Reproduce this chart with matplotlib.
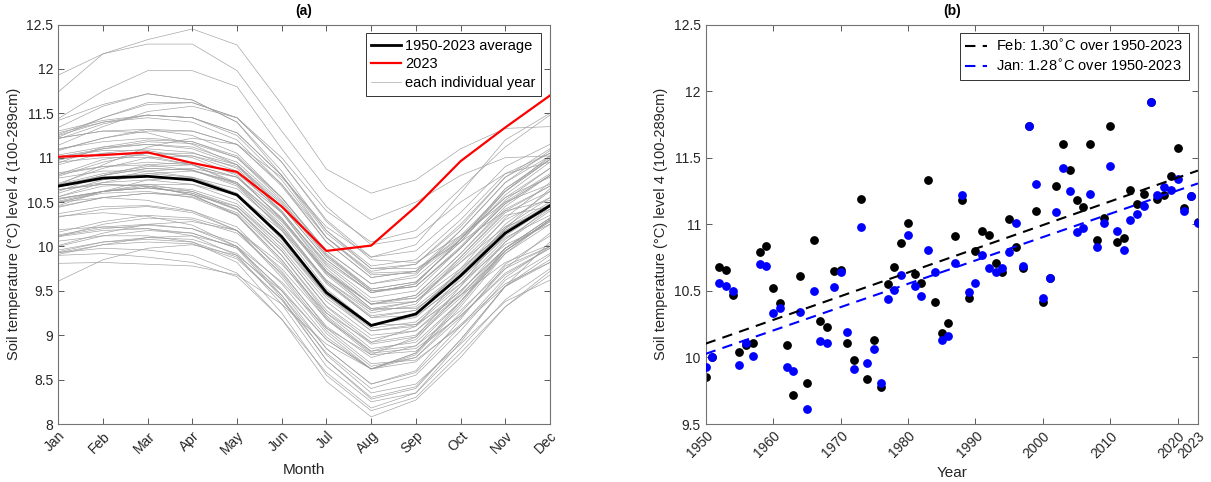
import matplotlib
matplotlib.use("Agg")
import matplotlib.pyplot as plt
import numpy as np

plt.rcParams['font.family'] = ['Liberation Sans', 'DejaVu Sans']

months = ['Jan', 'Feb', 'Mar', 'Apr', 'May', 'Jun', 'Jul', 'Aug', 'Sep', 'Oct', 'Nov', 'Dec']
years = list(range(1950, 2024))

# monthly soil temperature (level 4, 100-289cm), one row per year 1950-2023
year_temps = [
    [9.93, 10.02, 10.05, 10.03, 9.86, 9.40, 8.72, 8.30, 8.42, 8.95, 9.55, 9.85],
    [10.00, 10.12, 10.18, 10.15, 9.98, 9.52, 8.95, 8.62, 8.80, 9.35, 9.95, 10.30],
    [10.56, 10.68, 10.70, 10.62, 10.42, 9.90, 9.25, 8.85, 8.92, 9.38, 9.92, 10.30],
    [10.54, 10.62, 10.66, 10.60, 10.41, 9.95, 9.33, 8.96, 9.05, 9.50, 9.98, 10.28],
    [10.50, 10.55, 10.52, 10.40, 10.18, 9.65, 9.02, 8.62, 8.70, 9.12, 9.58, 9.82],
    [9.94, 10.05, 10.10, 10.08, 9.92, 9.45, 8.85, 8.45, 8.60, 9.18, 9.78, 10.00],
    [10.11, 10.18, 10.20, 10.15, 9.98, 9.42, 8.72, 8.28, 8.40, 8.95, 9.55, 9.90],
    [10.01, 10.15, 10.25, 10.28, 10.18, 9.80, 9.25, 8.92, 9.10, 9.65, 10.22, 10.55],
    [10.70, 10.82, 10.90, 10.92, 10.78, 10.32, 9.70, 9.30, 9.38, 9.82, 10.30, 10.55],
    [10.69, 10.80, 10.88, 10.86, 10.70, 10.25, 9.60, 9.20, 9.22, 9.58, 10.02, 10.25],
    [10.33, 10.42, 10.45, 10.38, 10.18, 9.68, 9.05, 8.65, 8.75, 9.20, 9.75, 10.15],
    [10.37, 10.45, 10.46, 10.40, 10.22, 9.72, 9.08, 8.68, 8.72, 9.10, 9.55, 9.82],
    [9.93, 9.98, 9.96, 9.90, 9.70, 9.18, 8.48, 8.08, 8.27, 8.75, 9.32, 9.72],
    [9.90, 9.92, 9.88, 9.82, 9.66, 9.18, 8.58, 8.18, 8.35, 8.92, 9.55, 10.05],
    [10.34, 10.38, 10.34, 10.24, 10.00, 9.45, 8.78, 8.35, 8.45, 8.90, 9.38, 9.62],
    [9.61, 9.85, 9.98, 10.02, 9.90, 9.50, 8.95, 8.62, 8.78, 9.32, 9.92, 10.25],
    [10.50, 10.60, 10.62, 10.55, 10.35, 9.85, 9.22, 8.82, 8.88, 9.28, 9.75, 10.00],
    [10.12, 10.20, 10.24, 10.20, 10.04, 9.58, 8.98, 8.62, 8.75, 9.25, 9.80, 10.12],
    [10.11, 10.25, 10.32, 10.30, 10.15, 9.70, 9.10, 8.75, 8.88, 9.38, 9.95, 10.30],
    [10.53, 10.62, 10.66, 10.60, 10.42, 9.95, 9.32, 8.92, 9.00, 9.45, 9.98, 10.32],
    [10.64, 10.70, 10.68, 10.58, 10.36, 9.85, 9.20, 8.80, 8.85, 9.22, 9.68, 9.98],
    [10.19, 10.22, 10.20, 10.12, 9.90, 9.35, 8.65, 8.25, 8.35, 8.85, 9.40, 9.75],
    [9.91, 10.02, 10.10, 10.12, 10.00, 9.60, 9.08, 8.78, 8.98, 9.55, 10.20, 10.65],
    [10.98, 11.05, 11.02, 10.92, 10.70, 10.18, 9.52, 9.12, 9.12, 9.45, 9.82, 10.02],
    [9.96, 10.05, 10.08, 10.05, 9.88, 9.40, 8.80, 8.40, 8.55, 9.05, 9.62, 9.92],
    [10.06, 10.12, 10.12, 10.05, 9.82, 9.25, 8.55, 8.15, 8.30, 8.80, 9.32, 9.68],
    [9.81, 9.82, 9.80, 9.78, 9.68, 9.35, 8.90, 8.62, 8.80, 9.38, 9.98, 10.32],
    [10.44, 10.55, 10.60, 10.56, 10.38, 9.90, 9.28, 8.90, 8.98, 9.42, 9.95, 10.30],
    [10.51, 10.62, 10.68, 10.64, 10.48, 10.02, 9.42, 9.05, 9.12, 9.55, 10.05, 10.40],
    [10.62, 10.80, 10.92, 10.95, 10.82, 10.40, 9.80, 9.42, 9.50, 9.98, 10.50, 10.82],
    [10.92, 11.05, 11.10, 11.06, 10.88, 10.40, 9.78, 9.38, 9.42, 9.82, 10.22, 10.42],
    [10.54, 10.62, 10.66, 10.62, 10.45, 9.98, 9.38, 9.00, 9.05, 9.45, 9.95, 10.28],
    [10.46, 10.62, 10.75, 10.78, 10.65, 10.22, 9.62, 9.25, 9.35, 9.88, 10.40, 10.68],
    [10.81, 10.98, 11.05, 11.02, 10.85, 10.38, 9.75, 9.35, 9.38, 9.75, 10.18, 10.45],
    [10.64, 10.70, 10.68, 10.58, 10.35, 9.82, 9.18, 8.78, 8.82, 9.22, 9.70, 9.98],
    [10.13, 10.22, 10.25, 10.20, 10.00, 9.50, 8.85, 8.45, 8.58, 9.10, 9.65, 10.00],
    [10.16, 10.28, 10.35, 10.32, 10.18, 9.75, 9.18, 8.82, 8.95, 9.48, 10.05, 10.45],
    [10.71, 10.88, 11.00, 11.02, 10.90, 10.45, 9.85, 9.48, 9.58, 10.08, 10.65, 11.00],
    [11.22, 11.30, 11.28, 11.15, 10.92, 10.38, 9.72, 9.30, 9.30, 9.65, 10.10, 10.35],
    [10.49, 10.62, 10.70, 10.70, 10.58, 10.18, 9.62, 9.28, 9.38, 9.85, 10.35, 10.45],
    [10.56, 10.72, 10.82, 10.85, 10.72, 10.30, 9.72, 9.35, 9.45, 9.92, 10.42, 10.68],
    [10.77, 10.85, 10.85, 10.78, 10.58, 10.08, 9.45, 9.05, 9.10, 9.50, 9.98, 10.32],
    [10.67, 10.78, 10.82, 10.78, 10.60, 10.12, 9.50, 9.12, 9.20, 9.62, 10.12, 10.45],
    [10.64, 10.72, 10.75, 10.70, 10.52, 10.05, 9.45, 9.08, 9.15, 9.58, 10.08, 10.42],
    [10.67, 10.80, 10.88, 10.86, 10.72, 10.28, 9.70, 9.35, 9.42, 9.88, 10.38, 10.62],
    [10.79, 10.95, 11.05, 11.05, 10.92, 10.48, 9.88, 9.50, 9.55, 9.98, 10.48, 10.80],
    [11.01, 11.08, 11.08, 11.00, 10.80, 10.30, 9.68, 9.28, 9.32, 9.72, 10.20, 10.50],
    [10.69, 10.92, 11.12, 11.22, 11.15, 10.78, 10.22, 9.88, 10.02, 10.60, 11.20, 11.50],
    [11.74, 12.17, 12.28, 12.28, 11.98, 11.30, 10.65, 10.30, 10.50, 10.80, 11.00, 11.02],
    [11.30, 11.42, 11.48, 11.45, 11.28, 10.80, 10.15, 9.75, 9.75, 10.05, 10.40, 10.52],
    [10.45, 10.55, 10.60, 10.58, 10.45, 10.02, 9.45, 9.10, 9.22, 9.75, 10.32, 10.72],
    [10.60, 10.75, 10.85, 10.88, 10.78, 10.38, 9.82, 9.48, 9.58, 10.08, 10.65, 10.98],
    [11.09, 11.22, 11.30, 11.30, 11.15, 10.68, 10.05, 9.65, 9.72, 10.18, 10.72, 11.08],
    [11.42, 11.60, 11.72, 11.65, 11.40, 10.85, 10.18, 9.75, 9.80, 10.22, 10.78, 11.05],
    [11.25, 11.40, 11.48, 11.45, 11.25, 10.75, 10.10, 9.70, 9.72, 10.10, 10.55, 10.78],
    [10.94, 11.12, 11.20, 11.18, 11.00, 10.52, 9.90, 9.50, 9.55, 9.98, 10.48, 10.80],
    [10.97, 11.10, 11.18, 11.16, 11.00, 10.55, 9.95, 9.58, 9.68, 10.18, 10.72, 11.02],
    [11.23, 11.45, 11.60, 11.62, 11.45, 10.95, 10.28, 9.85, 9.82, 10.12, 10.50, 10.70],
    [10.83, 10.90, 10.92, 10.86, 10.68, 10.20, 9.58, 9.20, 9.28, 9.72, 10.25, 10.62],
    [11.01, 11.10, 11.15, 11.12, 10.95, 10.50, 9.90, 9.52, 9.60, 10.05, 10.62, 11.02],
    [11.44, 11.75, 11.98, 11.98, 11.80, 11.10, 10.45, 10.02, 10.10, 10.50, 10.82, 10.95],
    [10.95, 11.00, 11.00, 10.92, 10.72, 10.22, 9.60, 9.22, 9.28, 9.70, 10.18, 10.48],
    [10.81, 10.90, 10.95, 10.92, 10.78, 10.32, 9.72, 9.35, 9.45, 9.92, 10.45, 10.80],
    [11.03, 11.12, 11.15, 11.10, 10.92, 10.45, 9.85, 9.48, 9.55, 10.00, 10.52, 10.88],
    [11.08, 11.22, 11.32, 11.30, 11.15, 10.70, 10.10, 9.72, 9.80, 10.25, 10.78, 11.10],
    [11.14, 11.35, 11.52, 11.58, 11.45, 11.00, 10.40, 10.05, 10.18, 10.65, 11.12, 11.48],
    [11.93, 12.17, 12.33, 12.45, 12.27, 11.60, 10.87, 10.60, 10.75, 11.10, 11.33, 11.35],
    [11.22, 11.30, 11.32, 11.25, 11.05, 10.55, 9.92, 9.52, 9.60, 10.05, 10.58, 10.95],
    [11.28, 11.40, 11.45, 11.40, 11.20, 10.70, 10.05, 9.65, 9.72, 10.12, 10.62, 10.98],
    [11.26, 11.45, 11.62, 11.62, 11.45, 10.95, 10.30, 9.88, 9.95, 10.38, 10.90, 11.15],
    [11.34, 11.58, 11.72, 11.65, 11.40, 10.80, 10.10, 9.68, 9.70, 10.08, 10.55, 10.88],
    [11.10, 11.18, 11.22, 11.18, 11.02, 10.55, 9.95, 9.58, 9.65, 10.08, 10.62, 10.98],
    [11.21, 11.38, 11.48, 11.45, 11.28, 10.80, 10.18, 9.78, 9.85, 10.30, 10.82, 11.05],
    [11.01, 11.03, 11.06, 10.94, 10.84, 10.45, 9.95, 10.01, 10.45, 10.96, 11.34, 11.70],
]

avg_temp = [10.68, 10.77, 10.79, 10.75, 10.58, 10.11, 9.48, 9.11, 9.24, 9.67, 10.15, 10.46]
temp_2023 = [11.01, 11.03, 11.06, 10.94, 10.84, 10.45, 9.95, 10.01, 10.45, 10.96, 11.34, 11.70]

jan_temp = [9.93, 10.00, 10.56, 10.54, 10.50, 9.94, 10.11, 10.01, 10.70, 10.69,
            10.33, 10.37, 9.93, 9.90, 10.34, 9.61, 10.50, 10.12, 10.11, 10.53,
            10.64, 10.19, 9.91, 10.98, 9.96, 10.06, 9.81, 10.44, 10.51, 10.62,
            10.92, 10.54, 10.46, 10.81, 10.64, 10.13, 10.16, 10.71, 11.22, 10.49,
            10.56, 10.77, 10.67, 10.64, 10.67, 10.79, 11.01, 10.69, 11.74, 11.30,
            10.45, 10.60, 11.09, 11.42, 11.25, 10.94, 10.97, 11.23, 10.83, 11.01,
            11.44, 10.95, 10.81, 11.03, 11.08, 11.14, 11.92, 11.22, 11.28, 11.26,
            11.34, 11.10, 11.21, 11.01]
feb_temp = [9.85, 10.00, 10.68, 10.66, 10.47, 10.04, 10.09, 10.11, 10.79, 10.84,
            10.52, 10.41, 10.09, 9.72, 10.61, 9.81, 10.88, 10.27, 10.23, 10.65,
            10.66, 10.11, 9.98, 11.19, 9.84, 10.13, 9.78, 10.55, 10.68, 10.86,
            11.01, 10.63, 10.56, 11.33, 10.42, 10.18, 10.26, 10.91, 11.18, 10.45,
            10.80, 10.95, 10.92, 10.71, 10.64, 11.04, 10.83, 10.67, 11.74, 11.10,
            10.42, 10.60, 11.29, 11.60, 11.41, 11.18, 11.13, 11.60, 10.88, 11.05,
            11.74, 10.87, 10.90, 11.26, 11.15, 11.23, 11.92, 11.19, 11.22, 11.36,
            11.57, 11.12, 11.21, 11.02]

# total warming over the period quoted in the legend
feb_change = 1.30
jan_change = 1.28

year_ticks = [1950, 1960, 1970, 1980, 1990, 2000, 2010, 2020, 2023]


def style_axes(ax):
    for s in ax.spines.values():
        s.set_color('0.45')
        s.set_linewidth(0.8)
    ax.tick_params(direction='in', length=4, width=0.7, color='0.35',
                   top=True, right=True, labelsize=10, labelcolor='#262626')


def trend(values, change):
    # straight line with the quoted change, through the mean of the points
    x = np.array(years, dtype=float)
    slope = change / (years[-1] - years[0])
    xm, ym = x.mean(), np.mean(values)
    ends = np.array([years[0], years[-1]], dtype=float)
    return ends, ym + slope * (ends - xm)


fig = plt.figure(figsize=(12.11, 4.82), dpi=100)
ax1 = fig.add_axes([0.0481, 0.1203, 0.406, 0.8288])
ax2 = fig.add_axes([0.5827, 0.1203, 0.4065, 0.8288])

# (a) seasonal cycle
x = np.arange(1, 13)
for i, row in enumerate(year_temps):
    ax1.plot(x, row, color='0.62', lw=0.45,
             label='each individual year' if i == 0 else None, zorder=1)
ax1.plot(x, avg_temp, color='black', lw=2, label='1950-2023 average', zorder=3)
ax1.plot(x, temp_2023, color='red', lw=1.6, label='2023', zorder=4)

ax1.set_xlim(1, 12)
ax1.set_ylim(8, 12.5)
ax1.set_xticks(x)
ax1.set_xticklabels(months, rotation=45, ha='right', va='top', rotation_mode='anchor')
yt = np.arange(8, 12.51, 0.5)
ax1.set_yticks(yt)
ax1.set_yticklabels(['%g' % v for v in yt])
ax1.set_xlabel('Month', fontsize=11, color='#262626')
ax1.set_ylabel('Soil temperature (°C) level 4 (100-289cm)', fontsize=10.5, color='#262626')
ax1.set_title('(a)', fontsize=10, fontweight='bold', pad=7)
style_axes(ax1)
h, l = ax1.get_legend_handles_labels()
order = [l.index('1950-2023 average'), l.index('2023'), l.index('each individual year')]
leg1 = ax1.legend([h[k] for k in order], [l[k] for k in order], loc='upper right',
                  fontsize=10.5, fancybox=False, framealpha=1, edgecolor='0.2',
                  handlelength=2.0, handletextpad=0.3, borderaxespad=0.6,
                  labelspacing=0.3)
leg1.get_frame().set_linewidth(0.7)

# (b) January and February by year
ax2.scatter(years, feb_temp, s=28, color='black', zorder=2)
ax2.scatter(years, jan_temp, s=28, color='blue', zorder=3)
fx, fy = trend(feb_temp, feb_change)
jx, jy = trend(jan_temp, jan_change)
ax2.plot(fx, fy, color='black', ls=(0, (5, 3.5)), lw=1.5, zorder=4,
         label=r'Feb: %.2f$^{\circ}$C over 1950-2023' % feb_change)
ax2.plot(jx, jy, color='blue', ls=(0, (5, 3.5)), lw=1.5, zorder=4,
         label=r'Jan: %.2f$^{\circ}$C over 1950-2023' % jan_change)

ax2.set_xlim(1950, 2023)
ax2.set_ylim(9.5, 12.5)
ax2.set_xticks(year_ticks)
ax2.set_xticklabels([str(v) for v in year_ticks], rotation=45, ha='right', va='top',
                    rotation_mode='anchor')
yt2 = np.arange(9.5, 12.51, 0.5)
ax2.set_yticks(yt2)
ax2.set_yticklabels(['%g' % v for v in yt2])
ax2.set_xlabel('Year', fontsize=11, color='#262626')
ax2.set_ylabel('Soil temperature (°C) level 4 (100-289cm)', fontsize=10.5, color='#262626')
ax2.set_title('(b)', fontsize=10, fontweight='bold', pad=7)
style_axes(ax2)
leg2 = ax2.legend(loc='upper right', fontsize=10.5, fancybox=False, framealpha=1,
                  edgecolor='0.2', handlelength=1.5, handletextpad=0.6,
                  borderaxespad=0.6, labelspacing=0.3)
leg2.get_frame().set_linewidth(0.7)

fig.savefig('out.png', dpi=100)
